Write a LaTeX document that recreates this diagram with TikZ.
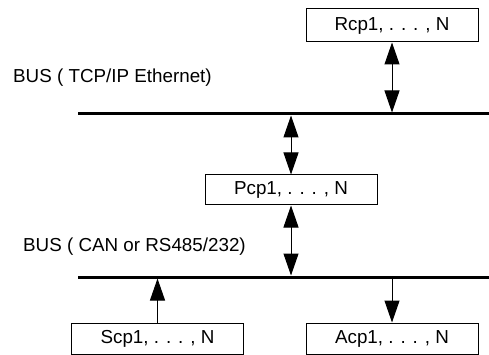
\documentclass[tikz,border=0pt]{standalone}
\usepackage{fontspec}
\setmainfont{Liberation Sans}
\usetikzlibrary{arrows.meta}
\begin{document}
\begin{tikzpicture}[x=1pt,y=-1pt,
  box/.style={draw,line width=1pt,inner sep=0pt,minimum width=172pt,font=\fontsize{18.8}{22}\selectfont},
  bus/.style={line width=3pt},
  lbl/.style={anchor=west,inner sep=0pt,font=\fontsize{18.8}{22}\selectfont},
  conn/.style={line width=1pt},
  tip/.tip={Triangle[width=15pt,length=22pt]}]
\useasboundingbox (0,0) rectangle (489,355);
% boxes
\node[box,minimum height=33pt] (rcp) at (392,25.5) {Rcp1, . . . , N};
\node[box,minimum height=30pt] (pcp) at (291,190) {Pcp1, . . . , N};
\node[box,minimum height=31pt] (scp) at (157.5,338.5) {Scp1, . . . , N};
\node[box,minimum height=31pt] (acp) at (392,338.5) {Acp1, . . . , N};
% buses
\coordinate (b1l) at (78,114);
\coordinate (b1r) at (489,114);
\coordinate (b2l) at (78,277);
\coordinate (b2r) at (489,277);
\draw[bus] (b1l) -- (b1r);
\draw[bus] (b2l) -- (b2r);
% labels
\node[lbl] (l1) at (13,78) {BUS ( TCP/IP Ethernet)};
\node[lbl] (l2) at (23,247) {BUS ( CAN or RS485/232)};
% connection points on buses
\coordinate (t1) at (392,112.5);
\coordinate (t2) at (291,115.5);
\coordinate (t3) at (291,275.5);
\coordinate (t4) at (157.5,278.5);
\coordinate (t5) at (392,278.5);
% arrows
\draw[conn,{tip}-{tip}] (rcp.south) -- (t1);
\draw[conn,{tip}-{tip}] (t2) -- (pcp.north);
\draw[conn,{tip}-{tip}] (pcp.south) -- (t3);
\draw[conn,-{tip}] (scp.north) -- (t4);
\draw[conn,-{tip}] (t5) -- (acp.north);
\end{tikzpicture}
\end{document}
